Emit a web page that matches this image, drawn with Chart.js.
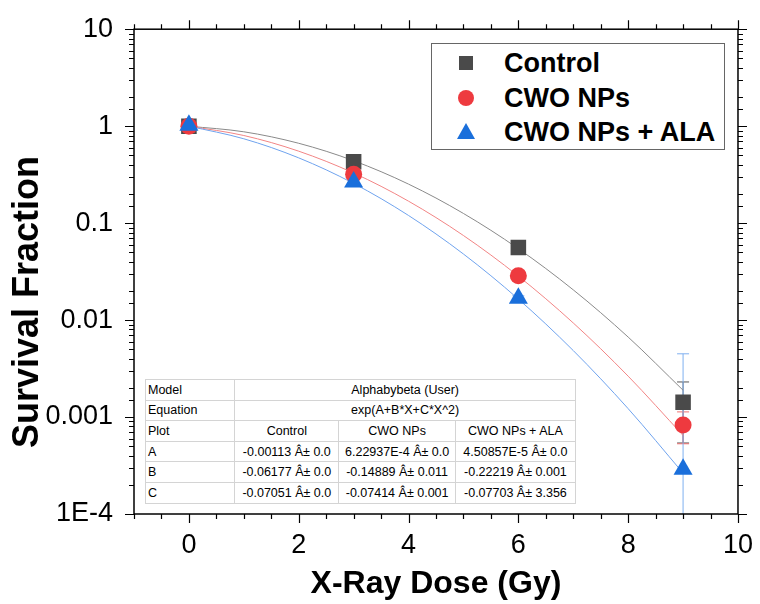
<!DOCTYPE html>
<html>
<head>
<meta charset="utf-8">
<script src="https://cdn.jsdelivr.net/npm/chart.js@4.4.1/dist/chart.umd.min.js"></script>
<style>
  body { margin: 0; background: #fff; }
  #wrap { position: relative; width: 760px; height: 604px; font-family: "Liberation Sans", Arial, sans-serif; }
  #legend { position: absolute; left: 431px; top: 43px; width: 292px; height: 105px; border: 1.5px solid #666; background: #fff; }
  .item { position: absolute; left: 0; height: 30px; width: 290px; }
  .item svg { position: absolute; left: 24px; top: 5px; }
  .item span { position: absolute; left: 72px; top: 0; font-weight: bold; font-size: 27px; line-height: 30px; color: #000; }
  #fit { position: absolute; left: 145px; top: 379px; width: 431px; border-collapse: collapse; border: 1.5px solid #555; background: #fff; font-size: 12.5px; color: #000; }
  #fit td { border: 1px solid #d4d4d4; height: 19.6px; padding: 0 2px; text-align: center; white-space: nowrap; }
  #fit td:first-child { text-align: left; }
</style>
</head>
<body>
<div id="wrap">
  <canvas id="sfChart" width="760" height="604"></canvas>
  <div id="legend"></div>
  <table id="fit"></table>
</div>
<script>
// measured points
const doses = [0, 3, 6, 9];
const controlSF = [1.0, 0.43, 0.056, 0.00142];
const npSF = [1.0, 0.32, 0.0286, 0.00083];
const alaSF = [1.02, 0.265, 0.0168, 0.00029];
const controlErr = [0.02, 0.03, 0.004, 0.00088];
const npErr = [0.02, 0.02, 0.002, 0.0003];
const alaErr = [0.03, 0.02, 0.001, 0.0042];

// fitted curves
const fitDose = [0, 1, 2, 3, 4, 5, 6, 7, 8, 9];
const controlFit = [0.999, 0.875, 0.666, 0.44, 0.2525, 0.1258, 0.0545, 0.0205, 0.00668, 0.00189];
const npFit = [1.0, 0.801, 0.552, 0.3285, 0.1684, 0.0745, 0.0284, 0.00934, 0.00264, 0.000646];
const alaFit = [1.0, 0.741, 0.471, 0.2567, 0.1199, 0.048, 0.01647, 0.00485, 0.00122, 0.000264];

// axis ticks
const xLabels = [0, 2, 4, 6, 8, 10];
const yMajor = [10, 1, 0.1, 0.01, 0.001, 0.0001];
const yLabels = ['10', '1', '0.1', '0.01', '0.001', '1E-4'];

// fit table
const seriesNames = ['Control', 'CWO NPs', 'CWO NPs + ALA'];
const paramNames = ['A', 'B', 'C'];
const paramA = ['-0.00113 Â± 0.0', '6.22937E-4 Â± 0.0', '4.50857E-5 Â± 0.0'];
const paramB = ['-0.06177 Â± 0.0', '-0.14889 Â± 0.011', '-0.22219 Â± 0.001'];
const paramC = ['-0.07051 Â± 0.0', '-0.07414 Â± 0.001', '-0.07703 Â± 3.356'];

const grayC = '#4a4a4a', redC = '#ee3a3f', blueC = '#1a6fdb';
const FONT = '"Liberation Sans", Arial, sans-serif';
Chart.defaults.font.family = FONT;

const pts = (xs, ys) => xs.map((v, i) => ({ x: v, y: ys[i] }));

// table
const tbl = document.getElementById('fit');
let rows = `<tr><td style="width:87px">Model</td><td colspan="3">Alphabybeta (User)</td></tr>`;
rows += `<tr><td>Equation</td><td colspan="3">exp(A+B*X+C*X^2)</td></tr>`;
rows += `<tr><td>Plot</td>${seriesNames.map((n, i) => `<td style="width:${[100, 112, 116][i]}px">${n}</td>`).join('')}</tr>`;
[paramA, paramB, paramC].forEach((p, i) => {
  rows += `<tr><td>${paramNames[i]}</td>${p.map(v => `<td>${v}</td>`).join('')}</tr>`;
});
tbl.innerHTML = rows;

// legend
const shapes = [
  `<rect x="3" y="3" width="14" height="14" fill="${grayC}"/>`,
  `<circle cx="10" cy="10" r="8" fill="${redC}"/>`,
  `<polygon points="10,1 19,17 1,17" fill="${blueC}"/>`
];
document.getElementById('legend').innerHTML = seriesNames.map((n, i) =>
  `<div class="item" style="top:${4 + i * 34.5}px"><svg width="20" height="20">${shapes[i]}</svg><span>${n}</span></div>`
).join('');

const errSets = [
  { val: controlSF, err: controlErr, color: '#555' },
  { val: npSF, err: npErr, color: '#f07070' },
  { val: alaSF, err: alaErr, color: '#7fb0f0' }
];

const isMajorY = v => Math.abs(Math.log10(v) - Math.round(Math.log10(v))) < 1e-6;

const framePlugin = {
  id: 'frame',
  beforeDatasetsDraw(chart) {
    const { ctx, chartArea: a, scales: { x, y } } = chart;
    ctx.save();
    ctx.beginPath();
    ctx.rect(a.left, a.top, a.right - a.left, a.bottom - a.top);
    ctx.clip();
    errSets.forEach(s => {
      ctx.strokeStyle = s.color;
      ctx.lineWidth = 1;
      doses.forEach((d, i) => {
        const px = x.getPixelForValue(d);
        const v = s.val[i], e = s.err[i];
        const hi = y.getPixelForValue(v + e);
        const lo = v - e > 0 ? y.getPixelForValue(v - e) : a.bottom + 20;
        ctx.beginPath();
        ctx.moveTo(px, hi); ctx.lineTo(px, lo);
        ctx.moveTo(px - 6, hi); ctx.lineTo(px + 6, hi);
        ctx.moveTo(px - 6, lo); ctx.lineTo(px + 6, lo);
        ctx.stroke();
      });
    });
    ctx.restore();
  },
  afterDraw(chart) {
    const { ctx, chartArea: a, scales: { x, y } } = chart;
    ctx.save();
    ctx.strokeStyle = '#000';
    ctx.lineWidth = 1.5;
    ctx.strokeRect(a.left, a.top, a.right - a.left, a.bottom - a.top);
    ctx.lineWidth = 1.2;
    ctx.beginPath();
    x.ticks.forEach(t => {
      const px = Math.round(x.getPixelForValue(t.value)) + 0.5;
      const len = xLabels.includes(t.value) ? 9 : 5;
      ctx.moveTo(px, a.bottom); ctx.lineTo(px, a.bottom + len);
      ctx.moveTo(px, a.top); ctx.lineTo(px, a.top - len);
    });
    y.ticks.forEach(t => {
      const py = Math.round(y.getPixelForValue(t.value)) + 0.5;
      const len = isMajorY(t.value) ? 9 : 5;
      ctx.moveTo(a.left, py); ctx.lineTo(a.left - len, py);
      ctx.moveTo(a.right, py); ctx.lineTo(a.right + len, py);
    });
    ctx.stroke();

    // axis titles
    ctx.fillStyle = '#000';
    ctx.font = 'bold 32px ' + FONT;
    ctx.textAlign = 'center';
    ctx.textBaseline = 'middle';
    ctx.fillText('X-Ray Dose (Gy)', (a.left + a.right) / 2, 584);
    ctx.font = 'bold 36px ' + FONT;
    ctx.translate(28, 302);
    ctx.rotate(-Math.PI / 2);
    ctx.fillText('Survival Fraction', 0, 0);
    ctx.restore();
  }
};

new Chart(document.getElementById('sfChart'), {
  type: 'scatter',
  data: {
    datasets: [
      { label: 'CWO NPs + ALA', data: pts(doses, alaSF), pointStyle: 'triangle', pointRadius: 11, backgroundColor: blueC, borderColor: blueC, borderWidth: 0 },
      { label: 'CWO NPs', data: pts(doses, npSF), pointStyle: 'circle', pointRadius: 8.5, backgroundColor: redC, borderColor: redC, borderWidth: 0 },
      { label: 'Control', data: pts(doses, controlSF), pointStyle: 'rect', pointRadius: 11, backgroundColor: grayC, borderColor: grayC, borderWidth: 0 },
      { label: 'ala fit', data: pts(fitDose, alaFit), showLine: true, pointRadius: 0, borderColor: '#6fa3ee', borderWidth: 1, cubicInterpolationMode: 'monotone' },
      { label: 'np fit', data: pts(fitDose, npFit), showLine: true, pointRadius: 0, borderColor: '#f28585', borderWidth: 1, cubicInterpolationMode: 'monotone' },
      { label: 'control fit', data: pts(fitDose, controlFit), showLine: true, pointRadius: 0, borderColor: '#8a8a8a', borderWidth: 1, cubicInterpolationMode: 'monotone' }
    ]
  },
  options: {
    responsive: false,
    animation: false,
    layout: { padding: { left: 0, right: 19, top: 22, bottom: 0 } },
    plugins: { legend: { display: false }, tooltip: { enabled: false } },
    scales: {
      x: {
        type: 'linear', min: -1, max: 10,
        grid: { display: false }, border: { display: false },
        ticks: {
          stepSize: 0.5, autoSkip: false, padding: 7, color: '#000', font: { size: 27 }, maxRotation: 0,
          callback: v => xLabels.includes(v) ? String(v) : ''
        },
        afterFit: s => { s.height = 90; }
      },
      y: {
        type: 'logarithmic', min: 0.0001, max: 10,
        grid: { display: false }, border: { display: false },
        ticks: {
          autoSkip: false, padding: 13, color: '#000', font: { size: 27 },
          callback: v => {
            const i = yMajor.findIndex(m => Math.abs(m - v) / m < 1e-6);
            return i >= 0 ? yLabels[i] : '';
          }
        },
        afterFit: s => { s.width = 134; }
      }
    }
  },
  plugins: [framePlugin]
});
</script>
</body>
</html>
